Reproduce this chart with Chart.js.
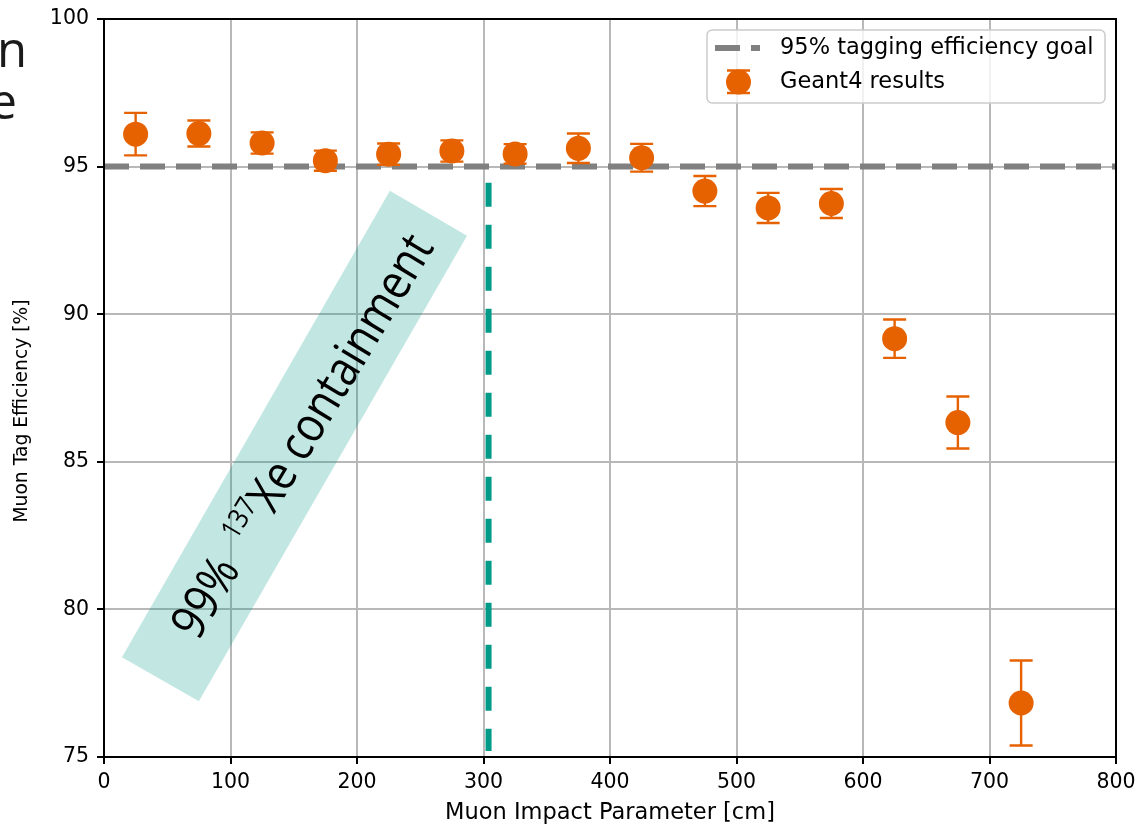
<!doctype html>
<html lang="en">
<head>
<meta charset="utf-8">
<title>Muon Tag Efficiency</title>
<script src="https://cdn.jsdelivr.net/npm/chart.js@4.4.1/dist/chart.umd.min.js"></script>
<style>
  body { margin: 0; background: #fff; }
  #box { width: 1139px; height: 827px; position: relative; }
</style>
</head>
<body>
<div id="box"><canvas id="myChart"></canvas></div>
<script>
// impact parameter bins [cm]
const impact = [25, 75, 125, 175, 225, 275, 325, 375, 425, 475, 525, 575, 625, 675, 725];
// tag efficiency [%] and its uncertainty
const efficiency = [96.1, 96.12, 95.8, 95.2, 95.42, 95.53, 95.43, 95.62, 95.3, 94.17, 93.6, 93.75, 89.17, 86.33, 76.83];
const effError = [0.72, 0.44, 0.36, 0.34, 0.36, 0.36, 0.33, 0.5, 0.47, 0.51, 0.51, 0.49, 0.65, 0.88, 1.44];
const goal = 95;
const containment = 304;   // 99% 137Xe containment radius [cm]
const xTicks = [0, 100, 200, 300, 400, 500, 600, 700, 800];
const yTicks = [75, 80, 85, 90, 95, 100];

const orange = '#e66100';
const teal = '#009a88';
const FONT = "'DejaVu Sans', sans-serif";

// shaded annotation band, corners in data units
const bandCorners = [[226, 94.18], [287, 92.66], [75, 76.89], [14.2, 78.38]];
const bandText = { x: 157, y: 85.87 };

const points = impact.map((x, i) => ({ x: x, y: efficiency[i] }));

// error bars go under the markers
const errorBars = {
    id: 'errorBars',
    beforeDatasetDraw(chart, args) {
        if (args.index !== 2) return;
        const ctx = chart.ctx;
        const xs = chart.scales.x, ys = chart.scales.y;
        ctx.save();
        ctx.strokeStyle = orange;
        ctx.lineWidth = 2.4;
        impact.forEach((x, i) => {
            const px = xs.getPixelForValue(x);
            const top = ys.getPixelForValue(efficiency[i] + effError[i]);
            const bot = ys.getPixelForValue(efficiency[i] - effError[i]);
            ctx.beginPath();
            ctx.moveTo(px, top); ctx.lineTo(px, bot);
            ctx.moveTo(px - 11.5, top); ctx.lineTo(px + 11.5, top);
            ctx.moveTo(px - 11.5, bot); ctx.lineTo(px + 11.5, bot);
            ctx.stroke();
        });
        ctx.restore();
    }
};

// teal band with rotated label
const band = {
    id: 'band',
    beforeDatasetsDraw(chart) {
        const ctx = chart.ctx;
        const xs = chart.scales.x, ys = chart.scales.y;
        ctx.save();
        ctx.fillStyle = 'rgba(0,153,136,0.24)';
        ctx.beginPath();
        bandCorners.forEach((c, i) => {
            const px = xs.getPixelForValue(c[0]), py = ys.getPixelForValue(c[1]);
            if (i === 0) ctx.moveTo(px, py); else ctx.lineTo(px, py);
        });
        ctx.closePath();
        ctx.fill();

        const tx = xs.getPixelForValue(bandText.x), ty = ys.getPixelForValue(bandText.y);
        ctx.translate(tx, ty);
        ctx.rotate(-59 * Math.PI / 180);
        ctx.scale(0.87, 1);
        ctx.fillStyle = '#000';
        ctx.textBaseline = 'alphabetic';
        const big = "49px 'Open Sans', sans-serif";
        const small = "28px 'Open Sans', sans-serif";
        const parts = [['99%  ', big, 0], ['137', small, -19], ['Xe containment', big, 0]];
        let total = 0;
        parts.forEach(p => { ctx.font = p[1]; total += ctx.measureText(p[0]).width; });
        let cx = -total / 2;
        parts.forEach(p => {
            ctx.font = p[1];
            ctx.fillText(p[0], cx, 16 + p[2]);
            cx += ctx.measureText(p[0]).width;
        });
        ctx.restore();
    }
};

// box spines, y title, legend, slide text fragments
const extras = {
    id: 'extras',
    afterDraw(chart) {
        const ctx = chart.ctx;
        const a = chart.chartArea;
        ctx.save();
        ctx.strokeStyle = '#000';
        ctx.lineWidth = 2;
        ctx.strokeRect(a.left, a.top, a.right - a.left, a.bottom - a.top);

        // y axis title
        ctx.save();
        ctx.translate(22, 411);
        ctx.rotate(-Math.PI / 2);
        ctx.fillStyle = '#000';
        ctx.font = '18.7px ' + FONT;
        ctx.textAlign = 'center';
        ctx.textBaseline = 'middle';
        ctx.fillText('Muon Tag Efficiency [%]', 0, 0);
        ctx.restore();

        // legend
        const lx = 707, ly = 30, lw = 398, lh = 73;
        ctx.fillStyle = 'rgba(255,255,255,0.8)';
        ctx.strokeStyle = '#cccccc';
        ctx.lineWidth = 1.5;
        ctx.beginPath();
        ctx.roundRect(lx, ly, lw, lh, 5);
        ctx.fill();
        ctx.stroke();

        ctx.strokeStyle = '#808080';
        ctx.lineWidth = 6;
        ctx.setLineDash([25, 11]);
        ctx.beginPath();
        ctx.moveTo(715, 48); ctx.lineTo(760, 48);
        ctx.stroke();
        ctx.setLineDash([]);

        ctx.strokeStyle = orange;
        ctx.lineWidth = 2.4;
        ctx.beginPath();
        ctx.moveTo(727, 70.5); ctx.lineTo(750, 70.5);
        ctx.moveTo(727, 93); ctx.lineTo(750, 93);
        ctx.moveTo(738.5, 70.5); ctx.lineTo(738.5, 93);
        ctx.stroke();
        ctx.fillStyle = orange;
        ctx.beginPath();
        ctx.arc(738.5, 82, 12.5, 0, Math.PI * 2);
        ctx.fill();

        ctx.fillStyle = '#000';
        ctx.font = '22.5px ' + FONT;
        ctx.textBaseline = 'middle';
        ctx.textAlign = 'left';
        ctx.fillText('95% tagging efficiency goal', 780, 48);
        ctx.fillText('Geant4 results', 780, 82);

        // cut-off slide text at the left edge
        ctx.fillStyle = '#1a1a1a';
        ctx.font = "49px 'Open Sans', sans-serif";
        ctx.textBaseline = 'alphabetic';
        ctx.textAlign = 'right';
        ctx.fillText('n', 27, 67);
        ctx.fillText('e', 17, 119);
        ctx.restore();
    }
};

const ctx = document.getElementById('myChart');
new Chart(ctx, {
    data: {
        datasets: [
            {
                type: 'line',
                label: '95% tagging efficiency goal',
                data: [{ x: 0, y: goal }, { x: 800, y: goal }],
                borderColor: '#808080',
                borderWidth: 6,
                borderDash: [25, 11],
                pointRadius: 0,
                order: 2
            },
            {
                type: 'line',
                label: 'containment',
                data: [{ x: containment, y: 94.45 }, { x: containment, y: 75.2 }],
                borderColor: teal,
                borderWidth: 6,
                borderDash: [24, 18],
                pointRadius: 0,
                order: 3
            },
            {
                type: 'scatter',
                label: 'Geant4 results',
                data: points,
                backgroundColor: orange,
                borderWidth: 0,
                pointRadius: 12.5,
                pointHoverRadius: 12.5,
                order: 0
            }
        ]
    },
    options: {
        responsive: true,
        maintainAspectRatio: false,
        animation: false,
        events: [],
        layout: { padding: { top: 19, right: 23, left: 0, bottom: 0 } },
        plugins: { legend: { display: false }, tooltip: { enabled: false } },
        scales: {
            x: {
                type: 'linear',
                min: 0, max: 800,
                afterBuildTicks: s => { s.ticks = xTicks.map(v => ({ value: v })); },
                afterFit: s => { s.height = 70; s.paddingLeft = 0; s.paddingRight = 0; },
                ticks: { color: '#000', font: { family: FONT, size: 20.5 }, padding: 6, maxRotation: 0 },
                grid: { color: '#b8b8b8', lineWidth: 2, tickColor: '#000', tickWidth: 2, tickLength: 7 },
                border: { display: true, color: '#000', width: 2 },
                title: { display: true, text: 'Muon Impact Parameter [cm]', color: '#000',
                         font: { family: FONT, size: 22.5 }, padding: { top: 0, bottom: 0 } }
            },
            y: {
                type: 'linear',
                min: 75, max: 100,
                afterBuildTicks: s => { s.ticks = yTicks.map(v => ({ value: v })); },
                afterFit: s => { s.width = 104; s.paddingTop = 0; s.paddingBottom = 0; },
                ticks: { color: '#000', font: { family: FONT, size: 20.5 }, padding: 8 },
                grid: { color: '#b8b8b8', lineWidth: 2, tickColor: '#000', tickWidth: 2, tickLength: 7 },
                border: { display: true, color: '#000', width: 2 }
            }
        }
    },
    plugins: [band, errorBars, extras]
});
</script>
</body>
</html>
